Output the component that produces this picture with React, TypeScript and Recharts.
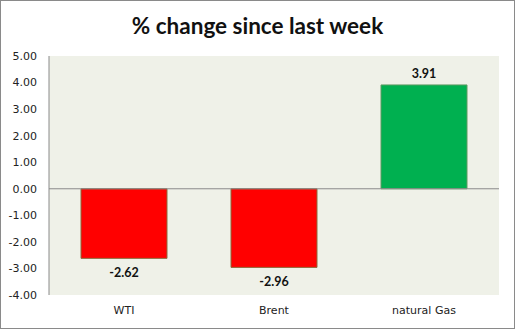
import { BarChart, Bar, XAxis, YAxis, CartesianGrid, ReferenceLine, LabelList, Cell } from 'recharts';

const categories = ['WTI', 'Brent', 'natural Gas'];
const changes = [-2.62, -2.96, 3.91];
const yTicks = [-4, -3, -2, -1, 0, 1, 2, 3, 4, 5];

const data = categories.map((name, i) => ({ name, value: changes[i] }));

const tickFont = { fill: '#222', fontSize: 11, fontFamily: 'DejaVu Sans, Verdana, sans-serif' };

function ValueLabel(props: any) {
  const { x, y, width, height, value } = props;
  const top = Math.min(y, y + height);
  const bottom = Math.max(y, y + height);
  const ty = value >= 0 ? top - 7 : bottom + 19;
  return (
    <text
      x={x + width / 2}
      y={ty}
      textAnchor="middle"
      fill="#111"
      fontSize={12.5}
      fontWeight={700}
      fontFamily="Lato, 'Open Sans', sans-serif"
    >
      {Number(value).toFixed(2)}
    </text>
  );
}

export default function App() {
  return (
    <div
      style={{
        position: 'fixed',
        top: 0,
        left: 0,
        width: 515,
        height: 329,
        boxSizing: 'border-box',
        border: '1px solid #8a8a8a',
        background: '#fff',
      }}
    >
      <div
        style={{
          position: 'absolute',
          top: 11,
          left: 0,
          width: 513,
          textAlign: 'center',
          fontFamily: "Lato, 'Open Sans', sans-serif",
          fontWeight: 700,
          fontSize: 22.5,
          lineHeight: '28px',
          color: '#111',
        }}
      >
        % change since last week
      </div>
      <div style={{ position: 'absolute', top: -1, left: -1 }}>
        <BarChart width={515} height={329} data={data} margin={{ top: 56, right: 16, bottom: 0, left: 0 }}>
          <CartesianGrid horizontal={false} vertical={false} fill="#eff1e8" />
          <XAxis
            dataKey="name"
            axisLine={false}
            tickLine={false}
            tickSize={6}
            tickMargin={5}
            height={34}
            tick={tickFont}
          />
          <YAxis
            domain={[-4, 5]}
            ticks={yTicks}
            interval={0}
            width={49}
            axisLine={{ stroke: '#8a8a8a' }}
            tickLine={false}
            tickSize={6}
            tickMargin={6}
            tick={tickFont}
            tickFormatter={(v: number) => v.toFixed(2)}
          />
          <ReferenceLine y={0} stroke="#8a8a8a" />
          <Bar dataKey="value" barSize={86} isAnimationActive={false}>
            {data.map((d, i) => (
              <Cell
                key={i}
                fill={d.value >= 0 ? '#00b050' : '#ff0000'}
                stroke={d.value >= 0 ? '#5e9a62' : '#8c6a3c'}
                strokeWidth={1}
              />
            ))}
            <LabelList dataKey="value" content={ValueLabel} />
          </Bar>
        </BarChart>
      </div>
    </div>
  );
}
